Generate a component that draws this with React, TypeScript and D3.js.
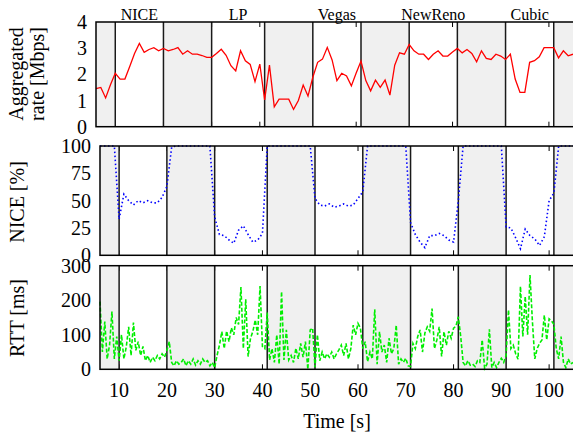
import React from 'react';
import * as d3 from 'd3';

// sample times (s) for the rate and NICE-share series
const secTime = [
  6, 7, 8, 9, 10, 11, 12, 13, 14, 15, 16, 17, 18, 19, 20, 21, 22, 23, 24, 25,
  26, 27, 28, 29, 30, 31, 32, 33, 34, 35, 36, 37, 38, 39, 40, 41, 42, 43, 44, 45,
  46, 47, 48, 49, 50, 51, 52, 53, 54, 55, 56, 57, 58, 59, 60, 61, 62, 63, 64, 65,
  66, 67, 68, 69, 70, 71, 72, 73, 74, 75, 76, 77, 78, 79, 80, 81, 82, 83, 84, 85,
  86, 87, 88, 89, 90, 91, 92, 93, 94, 95, 96, 97, 98, 99, 100, 101, 102, 103, 104, 105,
];

// aggregated rate [Mbps]
const rate = [
  1.45, 1.5, 1.1, 1.6, 2.04, 1.82, 1.82, 2.3, 2.8, 3.18, 2.84, 2.95, 3.02, 2.9, 2.99, 2.9, 2.95, 3.02, 2.77, 2.9,
  2.77, 2.77, 2.72, 2.65, 2.65, 2.8, 2.96, 2.73, 2.33, 2.13, 2.9, 2.52, 2.38, 1.72, 2.39, 1.02, 2.35, 0.76, 1.05, 1.05,
  1.05, 0.66, 1.0, 1.59, 1.17, 1.89, 2.46, 2.58, 3.03, 2.55, 1.76, 2.04, 1.94, 1.56, 2.05, 2.51, 1.76, 1.37, 1.78, 1.5,
  1.78, 1.21, 2.35, 2.82, 2.77, 3.14, 2.9, 2.77, 2.77, 2.57, 2.77, 2.9, 2.7, 2.7, 2.85, 2.99, 2.82, 2.95, 2.8, 2.48,
  2.9, 2.61, 2.57, 2.77, 2.7, 2.57, 2.77, 1.82, 1.31, 1.31, 2.46, 2.52, 2.67, 3.02, 3.02, 3.02, 2.63, 2.9, 2.71, 2.77,
];

// NICE share [%]
const niceShare = [
  100, 100, 100, 100, 33, 56, 50, 46, 50, 48, 50, 48, 48, 53, 63, 99, 100, 100, 100, 100,
  100, 100, 100, 100, 35, 19, 18, 14, 11, 23, 27, 19, 12, 14, 20, 100, 100, 100, 100, 100,
  100, 100, 100, 100, 100, 52, 46, 45, 47, 44, 45, 47, 45, 46, 52, 58, 100, 100, 100, 100,
  100, 100, 100, 100, 100, 30, 19, 12, 7, 18, 18, 20, 18, 14, 12, 50, 100, 100, 100, 100,
  100, 100, 100, 100, 100, 26, 25, 16, 6, 24, 18, 15, 9, 17, 50, 57, 100, 100, 100, 100,
];

// RTT samples, every half second
const rttTime = [
  6, 6.5, 7, 7.5, 8, 8.5, 9, 9.5, 10, 10.5, 11, 11.5, 12, 12.5, 13, 13.5, 14, 14.5, 15, 15.5,
  16, 16.5, 17, 17.5, 18, 18.5, 19, 19.5, 20, 20.5, 21, 21.5, 22, 22.5, 23, 23.5, 24, 24.5, 25, 25.5,
  26, 26.5, 27, 27.5, 28, 28.5, 29, 29.5, 30, 30.5, 31, 31.5, 32, 32.5, 33, 33.5, 34, 34.5, 35, 35.5,
  36, 36.5, 37, 37.5, 38, 38.5, 39, 39.5, 40, 40.5, 41, 41.5, 42, 42.5, 43, 43.5, 44, 44.5, 45, 45.5,
  46, 46.5, 47, 47.5, 48, 48.5, 49, 49.5, 50, 50.5, 51, 51.5, 52, 52.5, 53, 53.5, 54, 54.5, 55, 55.5,
  56, 56.5, 57, 57.5, 58, 58.5, 59, 59.5, 60, 60.5, 61, 61.5, 62, 62.5, 63, 63.5, 64, 64.5, 65, 65.5,
  66, 66.5, 67, 67.5, 68, 68.5, 69, 69.5, 70, 70.5, 71, 71.5, 72, 72.5, 73, 73.5, 74, 74.5, 75, 75.5,
  76, 76.5, 77, 77.5, 78, 78.5, 79, 79.5, 80, 80.5, 81, 81.5, 82, 82.5, 83, 83.5, 84, 84.5, 85, 85.5,
  86, 86.5, 87, 87.5, 88, 88.5, 89, 89.5, 90, 90.5, 91, 91.5, 92, 92.5, 93, 93.5, 94, 94.5, 95, 95.5,
  96, 96.5, 97, 97.5, 98, 98.5, 99, 99.5, 100, 100.5, 101, 101.5, 102, 102.5, 103, 103.5, 104, 104.5, 105,
];

const rtt = [
  196, 50, 138, 30, 70, 167, 30, 95, 25, 100, 30, 65, 123, 40, 135, 55, 80, 40, 66, 25,
  40, 20, 35, 25, 40, 30, 45, 35, 55, 80, 20, 10, 25, 15, 20, 30, 10, 25, 15, 30,
  12, 25, 15, 30, 20, 25, 10, 20, 5, 40, 70, 109, 60, 111, 80, 120, 100, 150, 130, 238,
  60, 203, 37, 90, 110, 143, 100, 241, 66, 60, 164, 27, 60, 20, 100, 15, 225, 27, 114, 27,
  40, 20, 61, 30, 75, 35, 80, 0, 114, 119, 6, 100, 25, 50, 30, 45, 35, 50, 30, 45,
  56, 70, 40, 75, 30, 60, 128, 100, 133, 120, 60, 80, 22, 50, 30, 174, 15, 109, 50, 70,
  20, 90, 45, 60, 128, 15, 30, 20, 32, 10, 8, 75, 60, 95, 114, 50, 105, 123, 110, 176,
  60, 85, 123, 37, 109, 70, 110, 90, 119, 125, 152, 95, 20, 10, 25, 12, 15, 8, 25, 20,
  85, 3, 15, 116, 5, 20, 5, 20, 32, 20, 40, 172, 60, 70, 45, 29, 240, 95, 211, 100,
  273, 140, 30, 60, 75, 85, 157, 85, 146, 140, 130, 60, 30, 95, 20, 5, 30, 15, 20,
];

// phase boundaries and shaded (NICE only) intervals
const boundaries = [10, 20, 30, 41, 51, 61, 71, 81, 91, 101];
const shaded = [[6, 10], [20, 30], [41, 51], [61, 71], [81, 91], [101, 105]];
const phaseNames = ['NICE', 'LP', 'Vegas', 'NewReno', 'Cubic'];
const phaseMid = [15, 35.5, 56, 76, 96];
const xTicks = [10, 20, 30, 40, 50, 60, 70, 80, 90, 100];

const FONT = '"Liberation Serif", "Times New Roman", serif';
const W = 573;
const H = 437;

type PanelProps = {
  left: number;
  top: number;
  bottom: number;
  yMax: number;
  yTicks: number[];
  xs: number[];
  ys: number[];
  color: string;
  dash?: string;
  width: number;
  showX?: boolean;
};

const Panel = ({ left, top, bottom, yMax, yTicks, xs, ys, color, dash, width, showX }: PanelProps) => {
  const x = d3.scaleLinear().domain([6, 105]).range([left, W]);
  const y = d3.scaleLinear().domain([0, yMax]).range([bottom, top]);
  const line = d3.line<number>()
    .x((_, i) => x(xs[i]))
    .y(d => y(d));

  return (
    <g>
      <rect x={left} y={top} width={W - left} height={bottom - top} fill="#fff" />
      {/* ticks first, gray boxes hide some of them like in the original */}
      {xTicks.map(t => (
        <g key={'xt' + t}>
          <line x1={x(t)} x2={x(t)} y1={bottom} y2={bottom - 5} stroke="#000" strokeWidth={1} />
          <line x1={x(t)} x2={x(t)} y1={top} y2={top + 5} stroke="#000" strokeWidth={1} />
        </g>
      ))}
      {shaded.map(([a, b]) => (
        <rect key={'s' + a} x={x(a)} y={top} width={x(b) - x(a)} height={bottom - top} fill="#f0f0f0" />
      ))}
      {boundaries.map(b => (
        <line key={'b' + b} x1={x(b)} x2={x(b)} y1={top} y2={bottom} stroke="#1a1a1a" strokeWidth={1.5} />
      ))}
      <path d={line(ys) || ''} fill="none" stroke={color} strokeWidth={width} strokeDasharray={dash} />
      <rect x={left} y={top} width={W - left + 2} height={bottom - top} fill="none" stroke="#000" strokeWidth={1.5} />
      {yTicks.map(t => (
        <text key={'yl' + t} x={left - 9} y={y(t)} dy="0.35em" textAnchor="end" fontSize={20} fontFamily={FONT}>
          {t}
        </text>
      ))}
      {showX && xTicks.map(t => (
        <text key={'xl' + t} x={x(t)} y={bottom + 28} textAnchor="middle" fontSize={20} fontFamily={FONT}>
          {t}
        </text>
      ))}
    </g>
  );
};

const App = () => {
  const xTop = d3.scaleLinear().domain([6, 105]).range([96, W]);
  return (
    <svg width={W} height={H} style={{ position: 'absolute', left: 0, top: 0, background: '#fff' }}>
      <Panel left={96} top={22} bottom={126.7} yMax={4} yTicks={[0, 1, 2, 3, 4]}
        xs={secTime} ys={rate} color="#ff0000" width={1.3} />
      <Panel left={100} top={146} bottom={255.3} yMax={100} yTicks={[0, 25, 50, 75, 100]}
        xs={secTime} ys={niceShare} color="#0000ff" dash="1.5,2.5" width={1.6} />
      <Panel left={100} top={265.7} bottom={369.3} yMax={300} yTicks={[0, 100, 200, 300]}
        xs={rttTime} ys={rtt} color="#00ee00" dash="4,2" width={1.6} showX />

      {phaseNames.map((n, i) => (
        <text key={n} x={xTop(phaseMid[i])} y={19.5} textAnchor="middle" fontSize={16} fontFamily={FONT}>
          {n}
        </text>
      ))}

      <text transform="translate(23,74) rotate(-90)" textAnchor="middle" fontSize={20} fontFamily={FONT}>Aggregated</text>
      <text transform="translate(44,74) rotate(-90)" textAnchor="middle" fontSize={20} fontFamily={FONT}>rate [Mbps]</text>
      <text transform="translate(24,202) rotate(-90)" textAnchor="middle" fontSize={20} fontFamily={FONT}>NICE [%]</text>
      <text transform="translate(24,318) rotate(-90)" textAnchor="middle" fontSize={20} fontFamily={FONT}>RTT [ms]</text>
      <text x={337} y={428} textAnchor="middle" fontSize={20} fontFamily={FONT}>Time [s]</text>
    </svg>
  );
};

export default App;
